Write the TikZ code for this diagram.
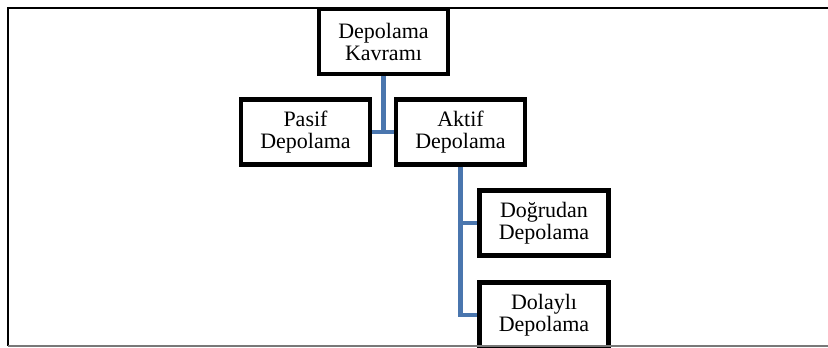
\documentclass[tikz,border=0pt]{standalone}
\usepackage{fontspec}
\setmainfont{Liberation Serif}
\usetikzlibrary{calc}

\definecolor{hatmavi}{RGB}{74,118,174}
\definecolor{cerceve}{RGB}{120,120,120}

\tikzset{
  kutu/.style={rectangle,draw=black,line width=3.4pt,fill=white,minimum width=96.75pt,minimum height=48.5pt,align=center,inner sep=0pt,font=\fontsize{16.5pt}{16.5pt}\selectfont},
  baglanti/.style={draw=hatmavi,line width=3.6pt}
}

\begin{document}
\begin{tikzpicture}[x=0.75pt,y=-0.75pt]
\useasboundingbox (0,0) rectangle (828,347);

% cerceve
\draw[line width=1.5pt] (8,346) -- (8,8) -- (830,8);

\node[kutu] (kavram) at (383.5,41.5) {Depolama\\Kavramı};
\node[kutu] (pasif) at (305.5,132) {Pasif\\Depolama};
\node[kutu] (aktif) at (460.5,132) {Aktif\\Depolama};
\node[kutu] (dogrudan) at (544,223) {Doğrudan\\Depolama};
\node[kutu] (dolayli) at (544,315) {Dolaylı\\Depolama};

\draw[baglanti] (kavram.south) -- (kavram.south |- pasif.east) (pasif.east) -- (aktif.west);
\draw[baglanti] (aktif.south) |- (dolayli.west) (aktif.south |- dogrudan.west) -- (dogrudan.west);

% alt cizgi
\draw[cerceve,line width=0.9pt] (8,346) -- (830,346);
\end{tikzpicture}
\end{document}
